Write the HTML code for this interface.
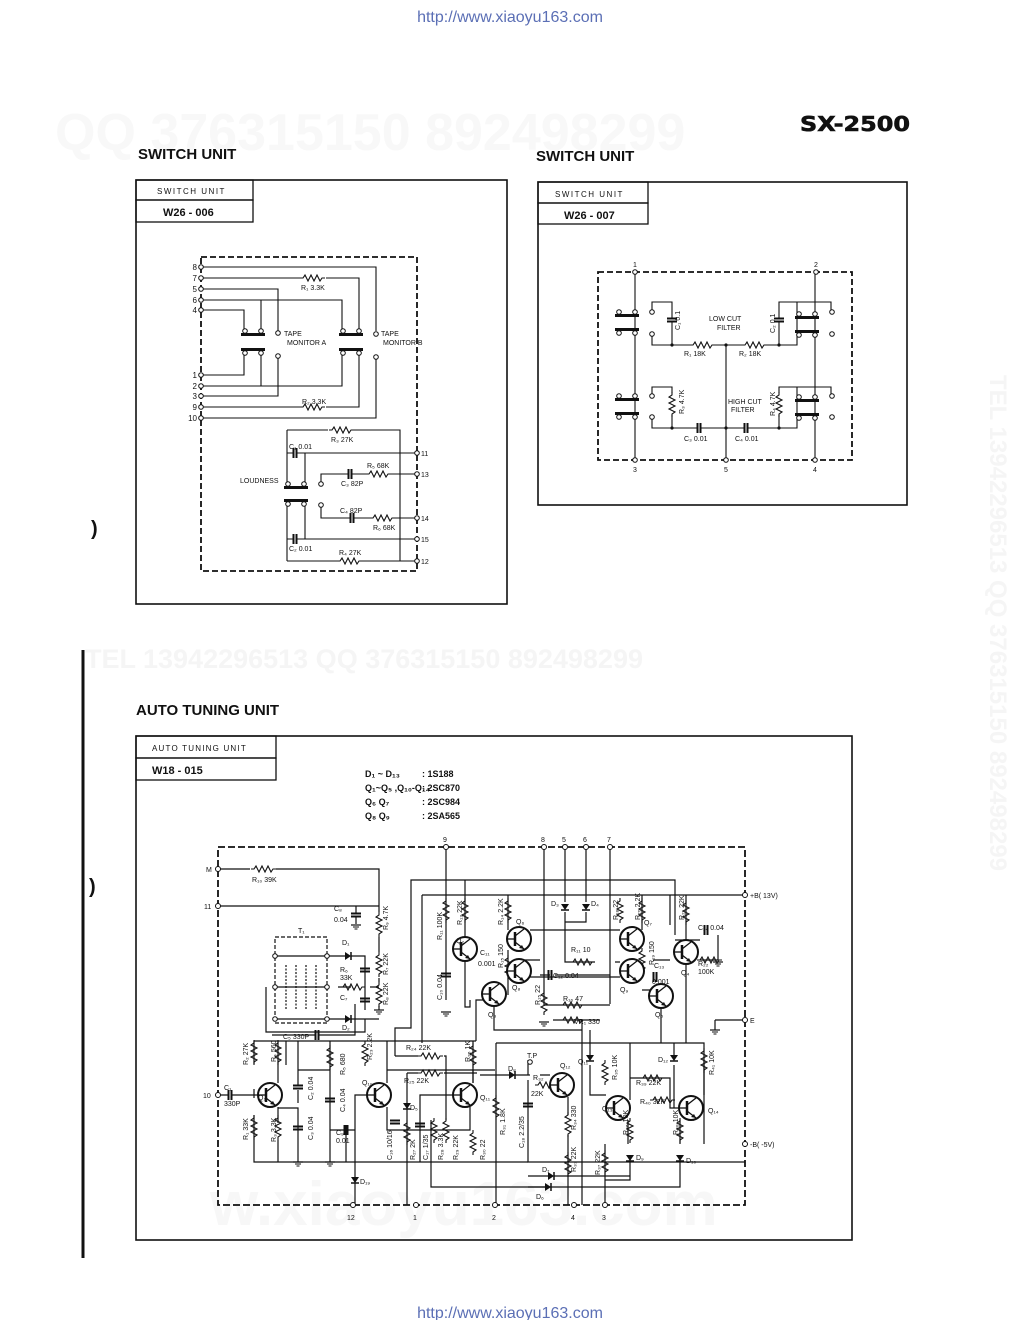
<!DOCTYPE html>
<html><head><meta charset="utf-8"><style>
html,body{margin:0;padding:0;background:#fff;}
svg{display:block;}
text{font-family:"Liberation Sans",sans-serif;fill:#111;}
.s{font-size:7px;}
.m{font-size:8px;}
.t{font-size:15px;font-weight:bold;}
</style></head><body>
<svg width="1020" height="1320" viewBox="0 0 1020 1320" xmlns="http://www.w3.org/2000/svg">
<defs>
<g id="rh"><polyline points="0,0 3,0 5,-3 8,3 11,-3 14,3 17,-3 20,3 22,0 25,0" fill="none" stroke="#111" stroke-width="1.1"/></g>
<g id="rv"><polyline points="0,0 0,3 -3,5 3,8 -3,11 3,14 -3,17 3,20 0,22 0,25" fill="none" stroke="#111" stroke-width="1.1"/></g>
<g id="cv"><line x1="-5" y1="-1.5" x2="5" y2="-1.5" stroke="#111" stroke-width="2"/><line x1="-5" y1="1.5" x2="5" y2="1.5" stroke="#111" stroke-width="2"/></g>
<g id="ch"><line x1="-1.5" y1="-5" x2="-1.5" y2="5" stroke="#111" stroke-width="2"/><line x1="1.5" y1="-5" x2="1.5" y2="5" stroke="#111" stroke-width="2"/></g>
<g id="tr"><circle r="12" fill="#fff" stroke="#111" stroke-width="2"/><line x1="-4" y1="-7" x2="-4" y2="7" stroke="#111" stroke-width="2.5"/><line x1="-12" y1="0" x2="-4" y2="0" stroke="#111" stroke-width="1.3"/><line x1="-4" y1="-3" x2="5" y2="-10" stroke="#111" stroke-width="1.3"/><line x1="-4" y1="3" x2="5" y2="10" stroke="#111" stroke-width="1.3"/><polygon points="5,10 0,9 3,6" fill="#111"/></g>
<g id="dv"><polygon points="-4,-3 4,-3 0,3" fill="#111"/><line x1="-4" y1="3" x2="4" y2="3" stroke="#111" stroke-width="1.5"/></g>
<g id="dh"><polygon points="-3,-4 -3,4 3,0" fill="#111"/><line x1="3" y1="-4" x2="3" y2="4" stroke="#111" stroke-width="1.5"/></g>
<g id="gnd"><line x1="-5" y1="0" x2="5" y2="0" stroke="#111" stroke-width="1.2"/><line x1="-3" y1="2" x2="3" y2="2" stroke="#111"/><line x1="-1.5" y1="4" x2="1.5" y2="4" stroke="#111"/></g>
<g id="sw"><rect x="-2" y="0" width="24" height="3" fill="#111"/><circle cx="2" cy="-2" r="2.3" fill="#fff" stroke="#111"/><circle cx="18" cy="-2" r="2.3" fill="#fff" stroke="#111"/></g>
<g id="swb"><rect x="-2" y="0" width="24" height="3" fill="#111"/><circle cx="2" cy="5" r="2.3" fill="#fff" stroke="#111"/><circle cx="18" cy="5" r="2.3" fill="#fff" stroke="#111"/></g>
</defs>

<!-- watermarks -->
<text x="55" y="150" style="font-size:52px;font-weight:bold;fill:#f8f8f8">QQ 376315150   892498299</text>
<text x="85" y="668" style="font-size:27px;font-weight:bold;fill:#f5f5f5">TEL  13942296513          QQ  376315150  892498299</text>
<text x="990" y="375" transform="rotate(90 990 375)" style="font-size:24px;font-weight:bold;fill:#f5f5f5">TEL  13942296513  QQ  376315150  892498299</text>
<text x="210" y="1225" style="font-size:62px;font-weight:bold;fill:#f7f7f7">w.xiaoyu163.com</text>

<text x="510" y="22" text-anchor="middle" style="font-size:16px;fill:#5b6fb5">http://www.xiaoyu163.com</text>
<text x="510" y="1318" text-anchor="middle" style="font-size:16px;fill:#5b6fb5">http://www.xiaoyu163.com</text>
<text x="800" y="131" textLength="110" lengthAdjust="spacingAndGlyphs" style="font-size:20px;font-weight:bold;font-family:'DejaVu Sans',sans-serif;stroke:#111;stroke-width:0.6">SX-2500</text>

<text x="138" y="159" class="t">SWITCH UNIT</text>
<text x="536" y="161" class="t">SWITCH UNIT</text>
<text x="136" y="715" class="t">AUTO TUNING UNIT</text>

<line x1="83" y1="650" x2="83" y2="1258" stroke="#111" stroke-width="3"/>
<text x="91" y="535" style="font-size:20px;font-weight:bold">)</text>
<text x="89" y="893" style="font-size:20px;font-weight:bold">)</text>

<g fill="none" stroke="#111">
<rect x="136" y="180" width="371" height="424" stroke-width="1.6"/>
<rect x="136" y="180" width="117" height="20" stroke-width="1.3"/>
<rect x="136" y="200" width="117" height="22" stroke-width="1.3"/>
<rect x="538" y="182" width="369" height="323" stroke-width="1.6"/>
<rect x="538" y="182" width="110" height="21" stroke-width="1.3"/>
<rect x="538" y="203" width="110" height="21" stroke-width="1.3"/>
<rect x="136" y="736" width="716" height="504" stroke-width="1.6"/>
<rect x="136" y="736" width="140" height="22" stroke-width="1.3"/>
<rect x="136" y="758" width="140" height="22" stroke-width="1.3"/>
</g>
<text x="157" y="194" class="m" style="letter-spacing:1.5px">SWITCH  UNIT</text>
<text x="163" y="216" style="font-size:11px;font-weight:bold">W26 - 006</text>
<text x="555" y="197" class="m" style="letter-spacing:1.5px">SWITCH  UNIT</text>
<text x="564" y="219" style="font-size:11px;font-weight:bold">W26 - 007</text>
<text x="152" y="751" class="m" style="letter-spacing:1.2px">AUTO  TUNING  UNIT</text>
<text x="152" y="774" style="font-size:11px;font-weight:bold">W18 - 015</text>

<!-- ========== SWITCH UNIT 1 ========== -->
<rect x="201" y="257" width="216" height="314" fill="none" stroke="#111" stroke-width="1.8" stroke-dasharray="6,3"/>
<g fill="none" stroke="#111" stroke-width="1.1">
<path d="M201 267H376V331"/>
<path d="M201 278H300M326 278H359V330"/>
<path d="M201 289H278V331"/>
<path d="M201 300H342V330M261 300V330"/>
<path d="M201 310H244V330"/>
<path d="M201 375H244V354"/>
<path d="M201 386H342V354M261 354V386"/>
<path d="M201 396H278V356"/>
<path d="M201 407H300M326 407H359V354"/>
<path d="M201 418H376V357"/>
<path d="M287 430H328M354 430H400V561"/>
<path d="M287 430V484M287 504V561"/>
<path d="M287 453H293M297 453H417M305 453V484"/>
<path d="M321 482V474H348M352 474H366M391 474H417"/>
<path d="M321 507V518H350M354 518H370M395 518H417"/>
<path d="M287 539H293M297 539H417M305 504V539"/>
<path d="M287 561H337M362 561H417"/>
</g>
<use href="#rh" x="300" y="278"/><use href="#rh" x="300" y="407"/>
<use href="#rh" x="329" y="430"/><use href="#rh" x="366" y="474"/><use href="#rh" x="370" y="518"/><use href="#rh" x="337" y="561"/>
<use href="#ch" x="295" y="453"/><use href="#ch" x="350" y="474"/><use href="#ch" x="352" y="518"/><use href="#ch" x="295" y="539"/>
<use href="#sw" x="243" y="333"/><use href="#swb" x="243" y="348"/>
<use href="#sw" x="341" y="333"/><use href="#swb" x="341" y="348"/>
<use href="#sw" x="286" y="486"/><use href="#swb" x="286" y="499"/>
<g fill="#fff" stroke="#111">
<circle cx="278" cy="333" r="2.3"/><circle cx="278" cy="356" r="2.3"/><circle cx="376" cy="334" r="2.3"/><circle cx="376" cy="357" r="2.3"/>
<circle cx="321" cy="484" r="2.3"/><circle cx="321" cy="505" r="2.3"/>
<circle cx="201" cy="267" r="2.3"/><circle cx="201" cy="278" r="2.3"/><circle cx="201" cy="289" r="2.3"/><circle cx="201" cy="300" r="2.3"/><circle cx="201" cy="310" r="2.3"/>
<circle cx="201" cy="375" r="2.3"/><circle cx="201" cy="386" r="2.3"/><circle cx="201" cy="396" r="2.3"/><circle cx="201" cy="407" r="2.3"/><circle cx="201" cy="418" r="2.3"/>
<circle cx="417" cy="453" r="2.3"/><circle cx="417" cy="474" r="2.3"/><circle cx="417" cy="518" r="2.3"/><circle cx="417" cy="539" r="2.3"/><circle cx="417" cy="561" r="2.3"/>
</g>
<g class="m" text-anchor="end">
<text x="197" y="270">8</text><text x="197" y="281">7</text><text x="197" y="292">5</text><text x="197" y="303">6</text><text x="197" y="313">4</text>
<text x="197" y="378">1</text><text x="197" y="389">2</text><text x="197" y="399">3</text><text x="197" y="410">9</text><text x="197" y="421">10</text>
</g>
<g class="s">
<text x="421" y="456">11</text><text x="421" y="477">13</text><text x="421" y="521">14</text><text x="421" y="542">15</text><text x="421" y="564">12</text>
<text x="301" y="290">R₁ 3.3K</text><text x="302" y="404">R₂ 3.3K</text>
<text x="284" y="336">TAPE</text><text x="287" y="345">MONITOR A</text>
<text x="381" y="336">TAPE</text><text x="383" y="345">MONITOR B</text>
<text x="331" y="442">R₃ 27K</text><text x="289" y="449">C₁ 0.01</text>
<text x="367" y="468">R₅ 68K</text><text x="341" y="486">C₃ 82P</text><text x="240" y="483">LOUDNESS</text>
<text x="340" y="513">C₄ 82P</text><text x="373" y="530">R₆ 68K</text>
<text x="289" y="551">C₂ 0.01</text><text x="339" y="555">R₄ 27K</text>
</g>

<!-- ========== SWITCH UNIT 2 ========== -->
<rect x="598" y="272" width="254" height="188" fill="none" stroke="#111" stroke-width="1.8" stroke-dasharray="6,3"/>
<g fill="none" stroke="#111" stroke-width="1.1">
<path d="M635 272V460M815 272V460M726 345V460"/>
<path d="M652 310V302H672V318M672 322V345M652 335V345H690M715 345H742M767 345H797V302H779V318M779 322V345M797 310"/>
<path d="M831 310V302H797"/>
<path d="M652 394V387H672V393M672 415V428M652 419V428H697M701 428H744M748 428H797V387H779V393M779 415V428"/>
<path d="M831 394V387H797"/>
</g>
<use href="#rh" x="690" y="345"/><use href="#rh" x="742" y="345"/>
<use href="#rv" x="672" y="392"/><use href="#rv" x="779" y="392"/>
<use href="#cv" x="672" y="320"/><use href="#cv" x="779" y="320"/>
<use href="#ch" x="699" y="428"/><use href="#ch" x="746" y="428"/>
<use href="#sw" x="617" y="314"/><use href="#swb" x="617" y="328"/>
<use href="#sw" x="617" y="398"/><use href="#swb" x="617" y="412"/>
<use href="#sw" x="797" y="316"/><use href="#swb" x="797" y="330"/>
<use href="#sw" x="797" y="399"/><use href="#swb" x="797" y="413"/>
<g fill="#fff" stroke="#111">
<circle cx="652" cy="312" r="2.3"/><circle cx="652" cy="334" r="2.3"/><circle cx="832" cy="312" r="2.3"/><circle cx="832" cy="334" r="2.3"/>
<circle cx="652" cy="396" r="2.3"/><circle cx="652" cy="417" r="2.3"/><circle cx="832" cy="396" r="2.3"/><circle cx="832" cy="417" r="2.3"/>
<circle cx="635" cy="272" r="2.3"/><circle cx="816" cy="272" r="2.3"/><circle cx="635" cy="460" r="2.3"/><circle cx="726" cy="460" r="2.3"/><circle cx="815" cy="460" r="2.3"/>
</g>
<g fill="#111"><circle cx="726" cy="345" r="1.6"/><circle cx="726" cy="428" r="1.6"/><circle cx="672" cy="345" r="1.6"/><circle cx="779" cy="345" r="1.6"/><circle cx="672" cy="428" r="1.6"/><circle cx="779" cy="428" r="1.6"/></g>
<g class="s">
<text x="633" y="267">1</text><text x="814" y="267">2</text><text x="633" y="472">3</text><text x="724" y="472">5</text><text x="813" y="472">4</text>
<text x="709" y="321">LOW CUT</text><text x="717" y="330">FILTER</text>
<text x="728" y="404">HIGH CUT</text><text x="731" y="412">FILTER</text>
<text x="684" y="356">R₁ 18K</text><text x="739" y="356">R₂ 18K</text>
<text x="684" y="441">C₃ 0.01</text><text x="735" y="441">C₄ 0.01</text>
<text x="680" y="330" transform="rotate(-90 680 330)">C₁ 0.1</text>
<text x="775" y="333" transform="rotate(-90 775 333)">C₂ 0.1</text>
<text x="684" y="414" transform="rotate(-90 684 414)">R₃ 4.7K</text>
<text x="775" y="416" transform="rotate(-90 775 416)">R₄ 4.7K</text>
</g>

<!-- ========== AUTO TUNING ========== -->
<g style="font-size:9px;font-weight:bold">
<text x="365" y="777">D₁ ~ D₁₃</text><text x="422" y="777">: 1S188</text>
<text x="365" y="791">Q₁~Q₅ ,Q₁₀-Q₁₄</text><text x="422" y="791">: 2SC870</text>
<text x="365" y="805">Q₆  Q₇</text><text x="422" y="805">: 2SC984</text>
<text x="365" y="819">Q₈  Q₉</text><text x="422" y="819">: 2SA565</text>
</g>
<rect x="218" y="847" width="527" height="358" fill="none" stroke="#111" stroke-width="1.8" stroke-dasharray="7,3"/>
<g fill="none" stroke="#111" stroke-width="1.2">
<path d="M218 869H250M276 869H379V912M379 937V952M379 978V982M379 1006V1010"/>
<path d="M218 906H379M356 906V913M356 917V924"/>
<rect x="275" y="937" width="52" height="86" stroke-dasharray="4,2"/>
<path d="M275 956H327M275 987H327M275 1019H327"/>
<path d="M286 965V1010M296 965V1010M306 965V1010M316 965V1010" stroke-dasharray="2,1.5"/>
<path d="M327 956H345M351 956H365V1010M327 1019H345M351 1019H379M338 987H351M370 987H379"/>
<path d="M266 987V1032H340M340 1032H365V1019"/>
<path d="M272 1035H315M319 1035H355V1004"/>
<path d="M218 1095H228M232 1095H258"/>
<path d="M254 1041H476M254 1041V1064M254 1089V1098M254 1115V1162H528"/>
<path d="M278 1083V1064M278 1041V1064"/>
<path d="M278 1107V1123M278 1140V1162"/>
<path d="M278 1108H298V1162M298 1090V1103M298 1041V1085M286 1041V1065"/>
<path d="M298 1070H330V1162M330 1090V1120M330 1070V1041"/>
<path d="M330 1130H355M346 1125V1162"/>
<path d="M367 1095H355V1205"/>
<path d="M387 1083V1041M387 1107V1130H470V1107"/>
<path d="M387 1070H495M473 1083V1041"/>
<path d="M395 1056H418M444 1056H446V1120"/>
<path d="M407 1073H418M444 1073H477M407 1073V1205"/>
<path d="M453 1095H420V1110V1162M473 1083V1070"/>
<path d="M395 1056V1028H411V880H675V935M411 880"/>
<path d="M422 895H745M422 895V1043"/>
<path d="M446 847V1000M446 1003"/>
<path d="M476 1041V1000H485M465 937V880M465 961V1007H470V1000"/>
<path d="M496 1043H704V1095"/>
<path d="M544 847V1005M565 847V902M586 847V902M610 847V1004"/>
<path d="M565 912V922H586V912M565 922V962H595M615 962H620"/>
<path d="M508 930V895M508 950V995M530 930H620M530 977H620"/>
<path d="M519 960H540M540 975H550M555 975H610"/>
<path d="M544 1005H610M553 1005H560M585 1005H600M553 1020H600"/>
<path d="M494 1006V1030H582M582 1020V1205"/>
<path d="M642 930V895M642 990H670M653 960H670M670 895V925M675 940H700M700 960H718M718 935V960"/>
<path d="M661 1008V1043M686 940V895M686 965V1043"/>
<path d="M715 1020H745M715 1020V1030"/>
<path d="M496 1043V1205"/>
<path d="M480 1075H510M514 1075H530M540 1075H550"/>
<path d="M528 1080V1162H745M528 1060V1075"/>
<path d="M568 1097V1115M568 1135V1205"/>
<path d="M590 1030V1055M590 1065V1095H606M630 1043V1100M628 1120V1144"/>
<path d="M630 1078H670V1108H679M612 1108H606"/>
<path d="M704 1060V1144M674 1043V1060M674 1065V1108"/>
<path d="M605 1144V1205M605 1180H630V1155"/>
<path d="M680 1120V1144M680 1155V1187H431V1120"/>
<path d="M528 1176H548M554 1176H630"/>
<path d="M528 1187H545"/>
</g>
<use href="#rh" x="251" y="869"/>
<use href="#rv" x="379" y="912"/><use href="#rv" x="379" y="952"/><use href="#rv" x="379" y="982"/>
<use href="#cv" x="356" y="915"/><use href="#cv" x="365" y="970"/><use href="#cv" x="365" y="1000"/>
<use href="#dh" x="348" y="956"/><use href="#dh" x="348" y="1019"/>
<use href="#rh" x="340" y="987"/>
<use href="#ch" x="317" y="1035"/><use href="#ch" x="230" y="1095"/>
<use href="#rv" x="254" y="1040"/><use href="#rv" x="278" y="1040"/><use href="#rv" x="254" y="1115"/><use href="#rv" x="278" y="1115"/>
<use href="#cv" x="298" y="1087"/><use href="#cv" x="298" y="1128"/>
<use href="#rv" x="330" y="1045"/><use href="#cv" x="330" y="1100"/><use href="#ch" x="346" y="1130"/>
<use href="#rv" x="365" y="1041"/><use href="#rv" x="473" y="1043"/>
<use href="#rh" x="418" y="1056"/><use href="#rh" x="418" y="1073"/>
<use href="#dv" x="407" y="1106"/><use href="#rv" x="407" y="1120"/><use href="#cv" x="420" y="1125"/>
<use href="#rv" x="434" y="1118"/><use href="#rv" x="446" y="1118"/><use href="#rv" x="473" y="1130"/>
<use href="#cv" x="395" y="1122"/><use href="#dv" x="355" y="1180"/>
<use href="#rv" x="446" y="898"/><use href="#cv" x="446" y="975"/><use href="#rv" x="465" y="898"/>
<use href="#rv" x="508" y="898"/><use href="#rv" x="508" y="955"/>
<use href="#dv" x="565" y="907"/><use href="#dv" x="586" y="907"/>
<use href="#rh" x="570" y="962"/><use href="#ch" x="550" y="975"/>
<use href="#rv" x="620" y="898"/><use href="#rv" x="642" y="898"/><use href="#rv" x="642" y="948"/>
<use href="#ch" x="655" y="977"/><use href="#rv" x="686" y="900"/>
<use href="#ch" x="706" y="930"/><use href="#rh" x="697" y="960"/>
<use href="#rv" x="544" y="990"/><use href="#rh" x="560" y="1005"/><use href="#rh" x="560" y="1020"/>
<use href="#dh" x="512" y="1075"/><use href="#rh" x="535" y="1085"/>
<use href="#rv" x="496" y="1095"/><use href="#cv" x="528" y="1105"/>
<use href="#rv" x="568" y="1112"/><use href="#rv" x="568" y="1152"/><use href="#rv" x="605" y="1150"/>
<use href="#rv" x="605" y="1060"/><use href="#rv" x="704" y="1048"/>
<use href="#dv" x="590" y="1058"/><use href="#dv" x="674" y="1058"/>
<use href="#rh" x="640" y="1078"/><use href="#rh" x="650" y="1100"/>
<use href="#rv" x="630" y="1118"/><use href="#rv" x="680" y="1118"/>
<use href="#dv" x="630" y="1158"/><use href="#dv" x="680" y="1158"/>
<use href="#dh" x="551" y="1176"/><use href="#dh" x="548" y="1187"/>
<use href="#gnd" x="356" y="925"/><use href="#gnd" x="379" y="1010"/><use href="#gnd" x="298" y="1162"/><use href="#gnd" x="330" y="1162"/>
<use href="#gnd" x="446" y="1012"/><use href="#gnd" x="544" y="1022"/><use href="#gnd" x="718" y="962"/><use href="#gnd" x="715" y="1030"/>
<use href="#tr" x="270" y="1095"/><use href="#tr" x="465" y="949"/><use href="#tr" x="519" y="939"/><use href="#tr" x="519" y="971"/>
<use href="#tr" x="494" y="994"/><use href="#tr" x="632" y="939"/><use href="#tr" x="632" y="971"/><use href="#tr" x="661" y="996"/>
<use href="#tr" x="686" y="952"/><use href="#tr" x="379" y="1095"/><use href="#tr" x="465" y="1095"/><use href="#tr" x="562" y="1085"/>
<use href="#tr" x="618" y="1108"/><use href="#tr" x="691" y="1108"/>
<g fill="#fff" stroke="#111">
<circle cx="218" cy="869" r="2.5"/><circle cx="218" cy="906" r="2.5"/><circle cx="218" cy="1095" r="2.5"/>
<circle cx="745" cy="895" r="2.5"/><circle cx="745" cy="1020" r="2.5"/><circle cx="745" cy="1144" r="2.5"/>
<circle cx="446" cy="847" r="2.5"/><circle cx="544" cy="847" r="2.5"/><circle cx="565" cy="847" r="2.5"/><circle cx="586" cy="847" r="2.5"/><circle cx="610" cy="847" r="2.5"/>
<circle cx="353" cy="1205" r="2.5"/><circle cx="416" cy="1205" r="2.5"/><circle cx="495" cy="1205" r="2.5"/><circle cx="574" cy="1205" r="2.5"/><circle cx="605" cy="1205" r="2.5"/>
<circle cx="275" cy="956" r="2.3"/><circle cx="327" cy="956" r="2.3"/><circle cx="275" cy="987" r="2.3"/><circle cx="327" cy="987" r="2.3"/><circle cx="275" cy="1019" r="2.3"/><circle cx="327" cy="1019" r="2.3"/>
<circle cx="530" cy="1062" r="2.3"/>
</g>
<g class="s">
<text x="206" y="872">M</text><text x="204" y="909">11</text><text x="203" y="1098">10</text>
<text x="750" y="898">+B( 13V)</text><text x="750" y="1023">E</text><text x="750" y="1147">-B( -5V)</text>
<text x="443" y="842">9</text><text x="541" y="842">8</text><text x="562" y="842">5</text><text x="583" y="842">6</text><text x="607" y="842">7</text>
<text x="347" y="1220">12</text><text x="413" y="1220">1</text><text x="492" y="1220">2</text><text x="571" y="1220">4</text><text x="602" y="1220">3</text>
<text x="252" y="882">R₁₀ 39K</text><text x="334" y="911">C₈</text><text x="334" y="922">0.04</text>
<text x="298" y="933">T₁</text><text x="342" y="945">D₁</text><text x="342" y="1030">D₂</text>
<text x="340" y="972">R₆</text><text x="340" y="980">33K</text><text x="340" y="1000">C₇</text><text x="283" y="1039">C₅ 330P</text>
<text x="388" y="930" transform="rotate(-90 388 930)">R₉ 4.7K</text>
<text x="388" y="975" transform="rotate(-90 388 975)">R₇ 22K</text>
<text x="388" y="1005" transform="rotate(-90 388 1005)">R₈ 22K</text>
<text x="258" y="1100">Q₁</text><text x="224" y="1090">C₁</text><text x="224" y="1106">330P</text>
<text x="248" y="1065" transform="rotate(-90 248 1065)">R₂ 27K</text>
<text x="248" y="1140" transform="rotate(-90 248 1140)">R₁ 33K</text>
<text x="276" y="1062" transform="rotate(-90 276 1062)">R₄ 560</text>
<text x="276" y="1142" transform="rotate(-90 276 1142)">R₃ 3.3K</text>
<text x="313" y="1100" transform="rotate(-90 313 1100)">C₂ 0.04</text>
<text x="313" y="1140" transform="rotate(-90 313 1140)">C₃ 0.04</text>
<text x="345" y="1075" transform="rotate(-90 345 1075)">R₅ 680</text>
<text x="345" y="1112" transform="rotate(-90 345 1112)">C₄ 0.04</text>
<text x="336" y="1135">C₉</text><text x="336" y="1143">0.01</text>
<text x="362" y="1085">Q₁₀</text><text x="406" y="1050">R₂₄ 22K</text><text x="404" y="1083">R₂₅ 22K</text>
<text x="372" y="1060" transform="rotate(-90 372 1060)">R₂₃ 2.2K</text>
<text x="470" y="1062" transform="rotate(-90 470 1062)">R₂₆ 1K</text>
<text x="480" y="1100">Q₁₁</text><text x="410" y="1110">D₅</text>
<text x="392" y="1160" transform="rotate(-90 392 1160)">C₁₆ 10/16</text>
<text x="415" y="1160" transform="rotate(-90 415 1160)">R₂₇ 2K</text>
<text x="428" y="1160" transform="rotate(-90 428 1160)">C₁₇ 1/35</text>
<text x="443" y="1160" transform="rotate(-90 443 1160)">R₂₈ 3.3K</text>
<text x="458" y="1160" transform="rotate(-90 458 1160)">R₂₉ 22K</text>
<text x="485" y="1160" transform="rotate(-90 485 1160)">R₃₀ 22</text>
<text x="360" y="1184">D₁₉</text>
<text x="442" y="940" transform="rotate(-90 442 940)">R₁₁ 100K</text>
<text x="462" y="925" transform="rotate(-90 462 925)">R₁₂ 22K</text>
<text x="442" y="1000" transform="rotate(-90 442 1000)">C₁₀ 0.04</text>
<text x="456" y="943">Q₂</text><text x="480" y="955">C₁₁</text><text x="478" y="966">0.001</text>
<text x="503" y="925" transform="rotate(-90 503 925)">R₁₄ 2.2K</text>
<text x="503" y="968" transform="rotate(-90 503 968)">R₁₅ 150</text>
<text x="516" y="924">Q₆</text><text x="512" y="990">Q₈</text><text x="488" y="1017">Q₃</text>
<text x="551" y="906">D₃</text><text x="591" y="906">D₄</text>
<text x="571" y="952">R₁₁ 10</text><text x="553" y="978">C₁₂ 0.04</text>
<text x="540" y="1005" transform="rotate(-90 540 1005)">R₁₅ 22</text>
<text x="563" y="1001">R₁₆ 47</text><text x="574" y="1024">VR₁ 330</text>
<text x="618" y="920" transform="rotate(-90 618 920)">R₁₈ 22</text>
<text x="640" y="920" transform="rotate(-90 640 920)">R₂₀ 2.2K</text>
<text x="654" y="965" transform="rotate(-90 654 965)">R₁₉ 150</text>
<text x="620" y="992">Q₉</text><text x="655" y="1017">Q₅</text><text x="644" y="925">Q₇</text>
<text x="654" y="968">C₁₃</text><text x="652" y="984">0.001</text>
<text x="684" y="920" transform="rotate(-90 684 920)">R₂₁ 22K</text>
<text x="698" y="930">C₁₄ 0.04</text><text x="698" y="966">R₂₂</text><text x="698" y="974">100K</text><text x="681" y="975">Q₄</text>
<text x="527" y="1058">T.P</text><text x="508" y="1071">D₈</text>
<text x="533" y="1080">R₃₂</text><text x="531" y="1096">22K</text>
<text x="560" y="1068">Q₁₂</text>
<text x="505" y="1135" transform="rotate(-90 505 1135)">R₃₁ 1.8K</text>
<text x="524" y="1148" transform="rotate(-90 524 1148)">C₁₈ 2.2/35</text>
<text x="576" y="1130" transform="rotate(-90 576 1130)">R₃₄ 330</text>
<text x="576" y="1172" transform="rotate(-90 576 1172)">R₃₃ 22K</text>
<text x="600" y="1175" transform="rotate(-90 600 1175)">R₃₇ 22K</text>
<text x="578" y="1064">Q₁₁</text><text x="602" y="1111">Q₁₃</text>
<text x="617" y="1080" transform="rotate(-90 617 1080)">R₃₅ 10K</text>
<text x="636" y="1085">R₃₉ 22K</text><text x="640" y="1104">R₄₀ 32K</text>
<text x="628" y="1135" transform="rotate(-90 628 1135)">R₃₆ 10K</text>
<text x="678" y="1135" transform="rotate(-90 678 1135)">R₃₈ 10K</text>
<text x="658" y="1062">D₁₂</text><text x="708" y="1113">Q₁₄</text>
<text x="714" y="1075" transform="rotate(-90 714 1075)">R₄₁ 10K</text>
<text x="636" y="1160">D₉</text><text x="686" y="1163">D₁₀</text>
<text x="542" y="1172">D₇</text><text x="536" y="1199">D₆</text>
</g>
</svg>
</body></html>
